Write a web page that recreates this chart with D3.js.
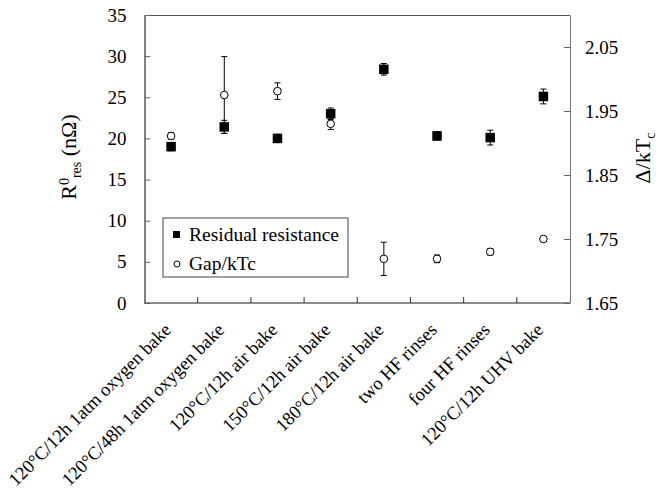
<!DOCTYPE html>
<html>
<head>
<meta charset="utf-8">
<script src="https://cdn.jsdelivr.net/npm/d3@7"></script>
<style>
  body { margin: 0; background: #fff; }
  svg { display: block; font-family: "Liberation Serif", "Times New Roman", serif; }
  svg text { font-family: "Liberation Serif", "Times New Roman", serif; }
</style>
</head>
<body>
<div id="chart"></div>
<script>
// treatments along the x axis
const categories = [
  "120°C/12h 1atm oxygen bake",
  "120°C/48h 1atm oxygen bake",
  "120°C/12h air bake",
  "150°C/12h air bake",
  "180°C/12h air bake",
  "two HF rinses",
  "four HF rinses",
  "120°C/12h UHV bake",
];
// residual resistance (nOhm), left axis
const resValues = [19.0, 21.4, 20.0, 23.0, 28.4, 20.3, 20.1, 25.1];
const resErrors = [0.5, 0.8, 0.5, 0.7, 0.7, 0.5, 0.9, 0.9];
// gap / kTc, right axis
const gapValues = [1.911, 1.975, 1.981, 1.93, 1.719, 1.719, 1.73, 1.75];
const gapErrors = [0.005, 0.06, 0.013, 0.009, 0.026, 0.006, 0.005, 0.003];
const leftTicks = [0, 5, 10, 15, 20, 25, 30, 35];
const rightTicks = [1.65, 1.75, 1.85, 1.95, 2.05];

class DualAxisChart {
  constructor(_config) {
    this.config = {
      parentElement: _config.parentElement,
      containerWidth: _config.containerWidth || 662,
      containerHeight: _config.containerHeight || 489,
      margin: _config.margin || { top: 15, right: 92, bottom: 186, left: 144.5 },
      fontSize: 19,
    };
    this.initVis();
  }

  initVis() {
    let vis = this;
    vis.width = vis.config.containerWidth - vis.config.margin.left - vis.config.margin.right;
    vis.height = vis.config.containerHeight - vis.config.margin.top - vis.config.margin.bottom;

    vis.svg = d3.select(vis.config.parentElement)
      .append("svg")
      .attr("width", vis.config.containerWidth)
      .attr("height", vis.config.containerHeight);

    vis.g = vis.svg.append("g")
      .attr("transform", `translate(${vis.config.margin.left},${vis.config.margin.top})`);

    vis.x = d3.scaleBand().domain(categories).range([0, vis.width]).padding(0);
    vis.yLeft = d3.scaleLinear().domain([0, 35]).range([vis.height, 0]);
    vis.yRight = d3.scaleLinear().domain([1.65, 2.1]).range([vis.height, 0]);

    vis.drawAxes();
    vis.drawData();
    vis.drawLegend();
  }

  drawAxes() {
    let vis = this;
    const fs = vis.config.fontSize;
    const serif = "Liberation Serif";

    // plot frame top line
    vis.g.append("line")
      .attr("x1", 0).attr("x2", vis.width).attr("y1", 0).attr("y2", 0)
      .attr("stroke", "#555").attr("shape-rendering", "crispEdges");

    const left = vis.g.append("g")
      .call(d3.axisLeft(vis.yLeft).tickValues(leftTicks).tickSizeInner(-6).tickSizeOuter(0).tickPadding(18))
      .attr("font-family", serif).attr("font-size", fs);
    left.select(".domain").attr("stroke", "#000");
    left.selectAll(".tick line").attr("stroke", "#666");
    left.selectAll("text").attr("fill", "#000");

    const right = vis.g.append("g")
      .attr("transform", `translate(${vis.width},0)`)
      .call(d3.axisRight(vis.yRight).tickValues(rightTicks).tickFormat(d3.format(".2f"))
        .tickSizeInner(-6).tickSizeOuter(0).tickPadding(15))
      .attr("font-family", serif).attr("font-size", fs);
    right.select(".domain").attr("stroke", "#777");
    right.selectAll(".tick line").attr("stroke", "#666");
    right.selectAll("text").attr("fill", "#000");

    // x axis: line plus ticks between categories
    vis.g.append("line")
      .attr("x1", 0).attr("x2", vis.width)
      .attr("y1", vis.height).attr("y2", vis.height)
      .attr("stroke", "#666").attr("stroke-width", 1.3);
    vis.g.selectAll(".xtick")
      .data(categories.slice(1))
      .join("line")
      .attr("class", "xtick")
      .attr("x1", (d) => vis.x(d)).attr("x2", (d) => vis.x(d))
      .attr("y1", vis.height).attr("y2", vis.height - 6)
      .attr("stroke", "#333");

    vis.g.selectAll(".xlabel")
      .data(categories)
      .join("text")
      .attr("class", "xlabel")
      .attr("text-anchor", "end")
      .attr("font-size", 18.5)
      .attr("transform", (d) =>
        `translate(${vis.x(d) + vis.x.bandwidth() / 2 + 1},${vis.height + 28}) rotate(-45)`)
      .text((d) => d);

    // left title
    const lt = vis.svg.append("text")
      .attr("text-anchor", "middle")
      .attr("font-size", 22)
      .attr("transform", "translate(76,157) rotate(-90)");
    lt.append("tspan").text("R");
    lt.append("tspan").attr("font-size", 14).attr("baseline-shift", "7").text("0");
    lt.append("tspan").attr("font-size", 14).attr("baseline-shift", "-5").text("res");
    lt.append("tspan").text(" (nΩ)");

    // right title
    const rt = vis.svg.append("text")
      .attr("text-anchor", "middle")
      .attr("font-size", 22)
      .attr("transform", "translate(650,158) rotate(-90)");
    rt.append("tspan").text("Δ/kT");
    rt.append("tspan").attr("font-size", 14).attr("baseline-shift", "-5").text("c");
  }

  drawData() {
    let vis = this;
    const cx = (i) => vis.x(categories[i]) + vis.x.bandwidth() / 2;
    const cap = 3;

    const errorBars = (cls, values, errors, scale) => {
      const eb = vis.g.selectAll("." + cls)
        .data(values)
        .join("g")
        .attr("class", cls)
        .attr("stroke", "#000")
        .attr("stroke-width", 1);
      eb.append("line")
        .attr("x1", (d, i) => cx(i)).attr("x2", (d, i) => cx(i))
        .attr("y1", (d, i) => scale(d - errors[i]))
        .attr("y2", (d, i) => scale(d + errors[i]));
      eb.append("line")
        .attr("x1", (d, i) => cx(i) - cap).attr("x2", (d, i) => cx(i) + cap)
        .attr("y1", (d, i) => scale(d + errors[i])).attr("y2", (d, i) => scale(d + errors[i]));
      eb.append("line")
        .attr("x1", (d, i) => cx(i) - cap).attr("x2", (d, i) => cx(i) + cap)
        .attr("y1", (d, i) => scale(d - errors[i])).attr("y2", (d, i) => scale(d - errors[i]));
    };

    errorBars("gap-err", gapValues, gapErrors, vis.yRight);
    vis.g.selectAll(".gap")
      .data(gapValues)
      .join("circle")
      .attr("class", "gap")
      .attr("cx", (d, i) => cx(i))
      .attr("cy", (d) => vis.yRight(d))
      .attr("r", 3.8)
      .attr("fill", "#fff")
      .attr("stroke", "#000");

    errorBars("res-err", resValues, resErrors, vis.yLeft);
    const s = 9.5;
    vis.g.selectAll(".res")
      .data(resValues)
      .join("rect")
      .attr("class", "res")
      .attr("x", (d, i) => cx(i) - s / 2)
      .attr("y", (d) => vis.yLeft(d) - s / 2)
      .attr("width", s)
      .attr("height", s)
      .attr("fill", "#000");
  }

  drawLegend() {
    let vis = this;
    const lg = vis.svg.append("g").attr("transform", "translate(163,218)");
    lg.append("rect")
      .attr("width", 185).attr("height", 59)
      .attr("fill", "#fff").attr("stroke", "#444");
    lg.append("rect")
      .attr("x", 10).attr("y", 13).attr("width", 7).attr("height", 7)
      .attr("fill", "#000");
    lg.append("text")
      .attr("x", 26).attr("y", 23)
      .attr("font-size", 19.5)
      .text("Residual resistance");
    lg.append("circle")
      .attr("cx", 14).attr("cy", 46).attr("r", 3)
      .attr("fill", "#fff").attr("stroke", "#000");
    lg.append("text")
      .attr("x", 26).attr("y", 52)
      .attr("font-size", 19.5)
      .text("Gap/kTc");
  }
}

new DualAxisChart({ parentElement: "#chart" });
</script>
</body>
</html>
